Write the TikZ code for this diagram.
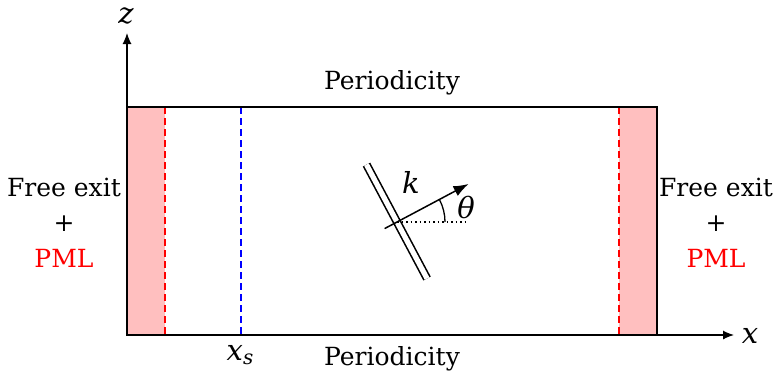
\documentclass[tikz,border=0pt]{standalone}
\usepackage{fontspec}
\setmainfont{DejaVu Serif}
\usetikzlibrary{arrows.meta,calc}
\begin{document}
\begin{tikzpicture}[x=1pt,y=-1pt,
  lbl/.style={font=\fontsize{25}{28}\selectfont, inner sep=0pt, anchor=base},
  var/.style={font=\fontsize{29}{30}\selectfont\itshape, inner sep=0pt, anchor=base},
  box/.style={line width=2pt},
  axis/.style={line width=1.2pt, -{Latex[length=11pt,width=9pt]}},
  pmlline/.style={red, line width=1.5pt, dash pattern=on 7pt off 4pt},
  srcline/.style={blue, line width=1.5pt, dash pattern=on 7pt off 4pt},
  pmlfill/.style={fill=red!25, draw=none}]
\useasboundingbox (0,0) rectangle (775,376);
% corners
\coordinate (bl) at (127,335);
\coordinate (tr) at (657,107);
% PML layers
\fill[pmlfill] (127,107) rectangle (165,335);
\fill[pmlfill] (619,107) rectangle (657,335);
\draw[pmlline] (165,107) -- (165,335);
\draw[pmlline] (619,107) -- (619,335);
\draw[srcline] (241,107) -- (241,335);
% domain
\draw[box] (bl) rectangle (tr);
% axes
\coordinate (ztip) at (127,33);
\coordinate (xtip) at (734,335);
\draw[axis] (bl) -- (ztip);
\draw[axis] (bl) -- (xtip);
\node[var] (zl) at (126,23) {z};
\node[var] (xl) at (750,343) {x};
\node[var] (xs) at (240,360) {x\raisebox{-4pt}{\fontsize{20}{22}\selectfont s}};
% labels
\node[lbl] (ptop) at (392,89) {Periodicity};
\node[lbl] (pbot) at (392,365) {Periodicity};
\node[lbl] (fl1) at (64,196) {Free exit};
\node[lbl] (fl2) at (64,231) {+};
\node[lbl, text=red] (fl3) at (64,267) {PML};
\node[lbl] (fr1) at (716,196) {Free exit};
\node[lbl] (fr2) at (716,231) {+};
\node[lbl, text=red] (fr3) at (716,267) {PML};
% plane wave
\coordinate (O) at (397,222);
\coordinate (wa) at ($(O)+(-118:65)$);
\coordinate (wb) at ($(O)+(62:64)$);
\draw[line width=1.6pt, double, double distance=5.2pt] (wa) -- (wb);
\coordinate (ka) at ($(O)+(152:14)$);
\coordinate (kb) at ($(O)+(-28:81)$);
\coordinate (dend) at (469,222);
\draw[line width=1.5pt, dash pattern=on 1.5pt off 3pt] (O) -- (dend);
\draw[line width=1.3pt] ($(O)+(48,0)$) arc[start angle=0, end angle=-28, radius=48];
\draw[line width=1.5pt, -{Latex[length=15pt,width=11pt]}] (ka) -- (kb);
\node[var] (kl) at (411,193) {k};
\node[var] (th) at (466,218) {θ};
\end{tikzpicture}
\end{document}
